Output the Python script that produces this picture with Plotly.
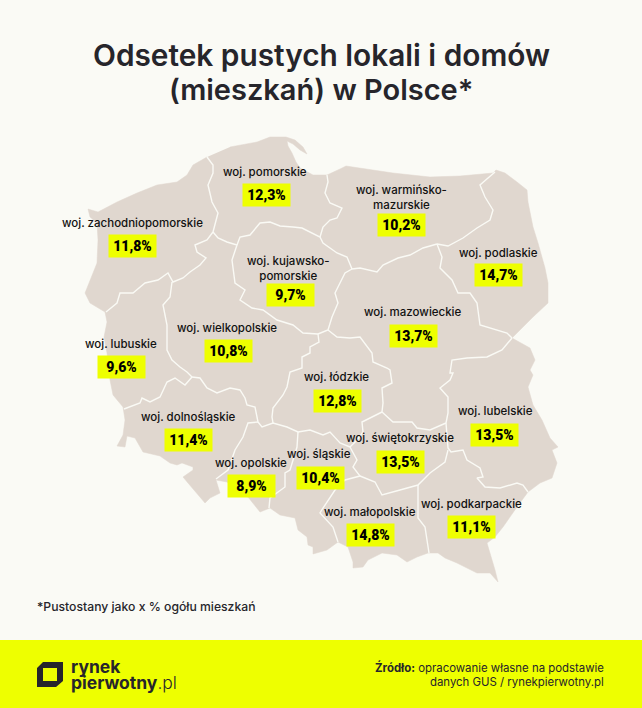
'''
Odsetek pustych lokali i domow w Polsce - mapa wojewodztw
'''

import plotly.graph_objects as go

BACKGROUND = '#FAFAF5'
LAND = '#E0D7CF'
YELLOW = '#EEFF00'
DARK = '#26252B'
FONT = 'Inter'

REGIONS = ['woj. zachodniopomorskie', 'woj. pomorskie', 'woj. warmińsko-<br>mazurskie', 'woj. podlaskie',
           'woj. kujawsko-<br>pomorskie', 'woj. mazowieckie', 'woj. wielkopolskie', 'woj. lubuskie', 'woj. łódzkie',
           'woj. dolnośląskie', 'woj. opolskie', 'woj. śląskie', 'woj. świętokrzyskie', 'woj. lubelskie',
           'woj. podkarpackie', 'woj. małopolskie']
VALUES = [11.8, 12.3, 10.2, 14.7, 9.7, 13.7, 10.8, 9.6, 12.8, 11.4, 8.9, 10.4, 13.5, 13.5, 11.1, 14.8]

# where each region's name and value sit on the map
NAME_X = [132, 265, 401, 498, 288, 413, 227, 121, 336, 188, 251, 319, 400, 495, 471, 370]
NAME_Y = [223, 172, 197, 253, 268, 312, 328, 344, 377, 417, 463, 454, 438, 411, 504, 512]
VALUE_X = [132, 266, 401, 498, 290, 413, 228, 121, 337, 188, 251, 320, 400, 494, 471, 370]
VALUE_Y = [246, 195, 225, 275, 295, 336, 351, 367, 401, 440, 486, 478, 462, 435, 527, 535]

COUNTRY_X = [207, 193, 187, 177, 157, 137, 117, 98, 88, 90, 97, 98, 97, 85, 90, 105, 107, 104, 107, 110, 113, 123, 125,
             123, 117, 125, 127, 135, 143, 160, 170, 177, 182, 193, 193, 183, 188, 198, 205, 210, 220, 216, 227, 248,
             260, 270, 280, 295, 298, 307, 308, 313, 313, 327, 338, 348, 353, 353, 363, 368, 382, 397, 407, 417, 428,
             438, 445, 457, 477, 490, 498, 495, 487, 495, 503, 517, 528, 540, 552, 557, 552, 558, 550, 542, 533, 528,
             533, 530, 535, 530, 512, 533, 548, 548, 545, 538, 533, 528, 527, 517, 505, 496, 493, 460, 430, 393, 352,
             346, 340, 327, 313, 300, 296, 292, 288, 287, 293, 300, 307, 303, 295, 286, 270, 257, 230]
COUNTRY_Y = [157, 165, 175, 182, 185, 193, 202, 212, 209, 217, 223, 240, 263, 293, 303, 312, 322, 337, 353, 380, 395,
             407, 420, 435, 446, 447, 436, 438, 452, 456, 463, 465, 463, 467, 470, 477, 483, 495, 503, 498, 493, 480,
             482, 497, 512, 508, 515, 518, 530, 537, 545, 547, 554, 550, 542, 547, 562, 568, 567, 560, 553, 555, 562,
             557, 553, 553, 558, 563, 573, 573, 582, 570, 543, 537, 527, 507, 492, 483, 478, 463, 450, 447, 438, 420,
             405, 387, 375, 370, 360, 348, 338, 317, 303, 283, 268, 243, 227, 202, 190, 182, 173, 170, 173, 176, 177,
             173, 167, 166, 169, 175, 175, 168, 162, 153, 146, 141, 144, 150, 154, 147, 140, 137, 137, 142, 147]

# internal voivodeship borders, each one a separate line
BORDERS = [
    ([207, 213, 213, 208, 212, 218, 213], [157, 165, 173, 185, 202, 213, 232]),
    ([213, 207, 195, 197, 206, 200, 190, 183, 173, 168, 158, 145, 133, 120, 117, 106],
     [232, 240, 245, 252, 258, 265, 272, 278, 282, 273, 280, 283, 293, 293, 303, 312]),
    ([172, 170, 163, 167, 167, 172, 180, 187, 192], [282, 297, 305, 325, 350, 360, 367, 372, 377]),
    ([192, 185, 175, 167, 160, 150, 142, 140, 124], [377, 385, 378, 382, 397, 402, 398, 403, 409]),
    ([192, 200, 207, 217, 230, 240, 245, 247, 255, 258], [377, 378, 388, 393, 388, 390, 398, 405, 407, 422]),
    ([258, 248, 243, 235, 228, 216], [422, 423, 437, 450, 470, 479]),
    ([258, 262, 273, 287, 298, 310, 323, 330, 340, 350], [422, 427, 423, 427, 432, 430, 435, 432, 443, 447]),
    ([213, 218, 227, 237, 232, 235, 245, 240, 252, 263, 277, 293, 303, 318],
     [232, 238, 242, 245, 260, 283, 290, 300, 308, 310, 320, 325, 333, 334]),
    ([237, 240, 250, 260, 270, 280, 293, 302, 320, 323, 337, 347, 352],
     [245, 237, 235, 223, 222, 226, 227, 228, 237, 243, 253, 257, 269]),
    ([320, 323, 330, 337, 342, 330, 325, 328, 327], [237, 227, 220, 218, 208, 203, 193, 182, 175]),
    ([495, 480, 485, 493, 490, 477, 463, 448, 437], [172, 185, 197, 210, 220, 228, 238, 246, 244]),
    ([437, 423, 410, 398, 383, 377, 360, 352], [244, 248, 255, 258, 265, 272, 268, 269]),
    ([352, 345, 335, 338, 332, 328, 318], [269, 273, 293, 303, 317, 330, 334]),
    ([437, 442, 440, 452, 458, 470, 477, 480, 507, 512], [244, 257, 268, 280, 293, 293, 303, 325, 333, 338]),
    ([512, 502, 487, 467, 452, 450, 453, 450, 440, 448, 448, 446], [338, 350, 357, 358, 360, 373, 373, 380, 388, 397,
                                                                     413, 423]),
    ([328, 337, 350, 360, 372, 373, 387, 390, 392, 382, 383, 382], [330, 337, 338, 337, 353, 362, 368, 370, 383, 388,
                                                                     403, 412]),
    ([318, 319, 310, 310, 302, 302, 290, 287, 283, 273, 272, 273], [334, 342, 347, 353, 357, 368, 372, 387, 395, 408,
                                                                      417, 423]),
    ([382, 362, 363, 357, 350], [412, 422, 432, 440, 447]),
    ([382, 393, 412, 417, 430, 446], [412, 422, 422, 428, 430, 423]),
    ([446, 448, 451, 463, 467, 480, 483, 477, 485, 500, 517, 523, 528],
     [423, 448, 452, 450, 460, 468, 477, 478, 487, 488, 483, 485, 492]),
    ([448, 445, 430, 418, 400, 382, 375, 360], [450, 462, 473, 485, 490, 495, 482, 476]),
    ([418, 418, 425, 427, 429], [485, 518, 527, 540, 553]),
    ([350, 354, 357, 353, 360, 345, 335, 323, 320, 333, 338], [447, 455, 460, 467, 476, 480, 490, 508, 513, 527, 542]),
    ([298, 297, 290, 285, 285, 270, 269], [432, 447, 470, 473, 487, 498, 508]),
]

LOGO_PATH = ('M 37 668 L 43 662 L 63 662 L 63 681 L 56 687 L 37 687 Z '
             'M 43 668 L 43 681 L 57 681 L 57 668 Z')


def pct(value):
    return '{:.1f}%'.format(value).replace('.', ',')


fig = go.Figure()
fig.add_trace(go.Scatter(x=COUNTRY_X, y=COUNTRY_Y, mode='lines', fill='toself', fillcolor=LAND,
                         line=dict(color=LAND, width=0.5), hoverinfo='skip'))
for border_x, border_y in BORDERS:
    fig.add_trace(go.Scatter(x=border_x, y=border_y, mode='lines', line=dict(color=BACKGROUND, width=1.4),
                             hoverinfo='skip'))

annotations = []
for name, value, nx, ny, vx, vy in zip(REGIONS, VALUES, NAME_X, NAME_Y, VALUE_X, VALUE_Y):
    annotations.append(dict(x=nx, y=ny, text=name, font=dict(family=FONT, size=11.5, color='#111111', weight=500)))
    annotations.append(dict(x=vx, y=vy, text=pct(value), width=47, height=22, bgcolor=YELLOW, borderpad=0,
                            font=dict(family='Roboto', size=14, color='#000000', weight=900)))

annotations += [
    dict(x=321, y=55, text='Odsetek pustych lokali i domów', font=dict(family=FONT, size=29.8, color=DARK, weight=600)),
    dict(x=321, y=89, text='(mieszkań) w Polsce*', font=dict(family=FONT, size=29, color=DARK, weight=600)),
    dict(x=35, y=606, text='*Pustostany jako x % ogółu mieszkań', xanchor='left',
         font=dict(family=FONT, size=12.2, color=DARK, weight=500)),
    dict(x=69, y=666, text='rynek', xanchor='left', font=dict(family=FONT, size=17.5, color=DARK, weight=700)),
    dict(x=69, y=682, text='pierwotny<span style="font-weight:300">.pl</span>', xanchor='left',
         font=dict(family=FONT, size=17.5, color=DARK, weight=700)),
    dict(x=606, y=667, text='<b>Źródło:</b> opracowanie własne na podstawie', xanchor='right',
         font=dict(family=FONT, size=11.4, color=DARK)),
    dict(x=606, y=682, text='danych GUS / rynekpierwotny.pl', xanchor='right',
         font=dict(family=FONT, size=11.4, color=DARK)),
]
for item in annotations:
    item.update(xref='x', yref='y', showarrow=False)

fig.update_layout(
    width=642, height=708, margin=dict(l=0, r=0, t=0, b=0), showlegend=False,
    paper_bgcolor=BACKGROUND, plot_bgcolor=BACKGROUND, annotations=annotations,
    xaxis=dict(range=[0, 642], visible=False, fixedrange=True),
    yaxis=dict(range=[708, 0], visible=False, fixedrange=True),
    shapes=[
        dict(type='rect', xref='x', yref='y', x0=0, x1=642, y0=640, y1=708, fillcolor=YELLOW, line_width=0,
             layer='below'),
        dict(type='path', xref='x', yref='y', path=LOGO_PATH, fillcolor=DARK, line_width=0),
    ],
)

fig.write_html('out.html', post_script="document.body.style.margin='0';", config=dict(displayModeBar=False))
